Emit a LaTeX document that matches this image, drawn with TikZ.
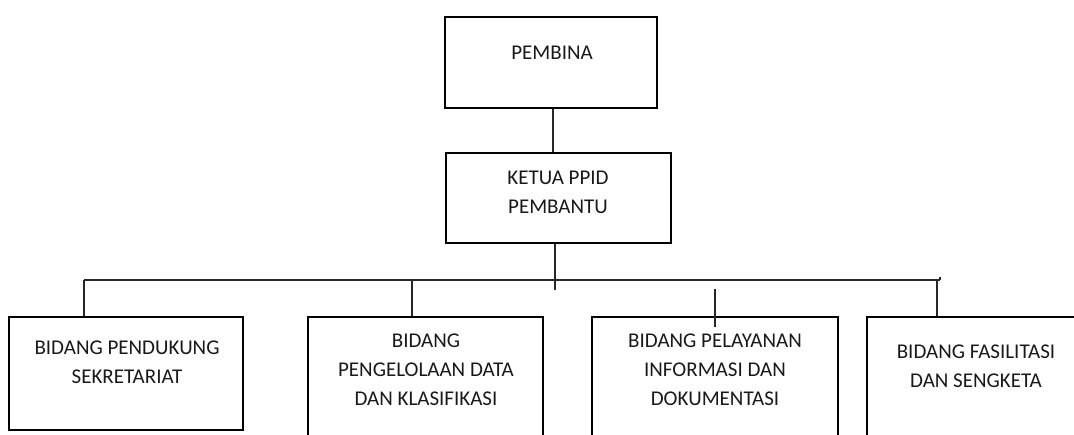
\documentclass[tikz,border=0pt]{standalone}
\usepackage{fontspec}
\setmainfont{Carlito}
\begin{document}
\begin{tikzpicture}[x=1pt,y=-1pt,
  box/.style={draw=black, line width=2.6pt, inner sep=0pt},
  conn/.style={draw=black!85, line width=1.1pt},
  lbl/.style={font=\fontsize{21}{29}\selectfont, align=center, anchor=base, inner sep=0pt, text=black!90}]
\useasboundingbox (0,0) rectangle (1074,434);
\clip (0,0) rectangle (1074,434);
% boxes
\node[box, minimum width=212pt, minimum height=91pt] (pembina) at (551,62.5) {};
\node[box, minimum width=225pt, minimum height=90pt] (ketua) at (558.5,198) {};
\node[box, minimum width=234pt, minimum height=113pt] (b1) at (126,373.5) {};
\node[box, minimum width=235pt, minimum height=128pt] (b2) at (425.5,381) {};
\node[box, minimum width=246pt, minimum height=128pt] (b3) at (715,381) {};
\node[box, minimum width=218pt, minimum height=130pt] (b4) at (976,382) {};
% texts
\node[lbl] (tp) at (552,59) {PEMBINA};
\node[lbl] (tk) at (558,213) {KETUA PPID\\PEMBANTU};
\node[lbl] (t1) at (127,383) {BIDANG PENDUKUNG\\SEKRETARIAT};
\node[lbl] (t2) at (426,405) {BIDANG\\PENGELOLAAN DATA\\DAN KLASIFIKASI};
\node[lbl] (t3) at (715,405) {BIDANG PELAYANAN\\INFORMASI DAN\\DOKUMENTASI};
\node[lbl] (t4) at (976,387) {BIDANG FASILITASI\\DAN SENGKETA};
% connectors
\coordinate (busL) at (84,280);
\coordinate (busR) at (940,280);
\draw[conn] ([xshift=2pt]pembina.south) -- ([xshift=2pt]pembina.south |- ketua.north);
\draw[conn] ([xshift=-3.5pt]ketua.south) -- ++(0,46);
\draw[conn] (busL) -- (busR);
\draw[conn] (busR) -- ++(0,-3);
\draw[conn] (busL) -- (busL |- b1.north);
\draw[conn] ([xshift=-13.5pt]b2.north |- busL) -- ([xshift=-13.5pt]b2.north);
\draw[conn] ([yshift=27pt]b3.north) -- ([yshift=-11pt]b3.north);
\draw[conn] ([xshift=-39pt]b4.north |- busR) -- ([xshift=-39pt]b4.north);
\end{tikzpicture}
\end{document}
